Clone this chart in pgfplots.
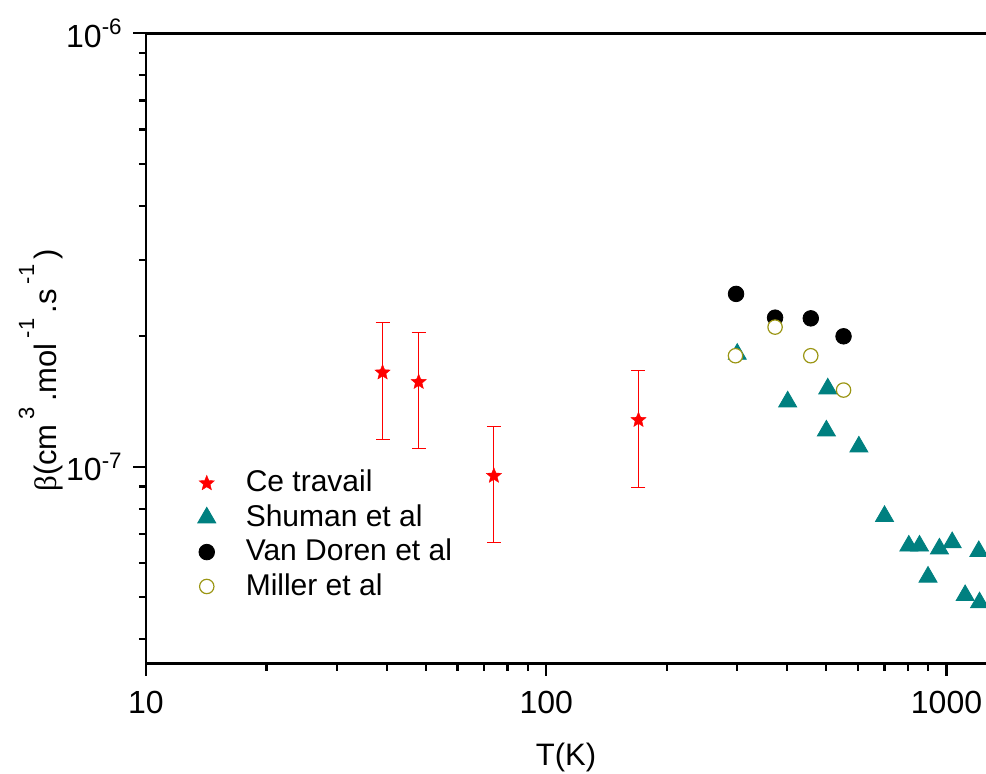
\documentclass[border=0pt]{standalone}
\usepackage{pgfplots}
\pgfplotsset{compat=1.18}
\usepackage{fontspec}
\setmainfont{Liberation Sans}
\newfontfamily\seriffont{Liberation Serif}
\definecolor{shuman}{RGB}{0,128,128}
\definecolor{miller}{RGB}{155,150,20}
\pgfdeclareplotmark{fstar}{%
  \pgfpathmoveto{\pgfqpointpolar{90}{\pgfplotmarksize}}%
  \pgfpathlineto{\pgfqpointpolar{126}{0.44\pgfplotmarksize}}%
  \pgfpathlineto{\pgfqpointpolar{162}{\pgfplotmarksize}}%
  \pgfpathlineto{\pgfqpointpolar{198}{0.44\pgfplotmarksize}}%
  \pgfpathlineto{\pgfqpointpolar{234}{\pgfplotmarksize}}%
  \pgfpathlineto{\pgfqpointpolar{270}{0.44\pgfplotmarksize}}%
  \pgfpathlineto{\pgfqpointpolar{306}{\pgfplotmarksize}}%
  \pgfpathlineto{\pgfqpointpolar{342}{0.44\pgfplotmarksize}}%
  \pgfpathlineto{\pgfqpointpolar{18}{\pgfplotmarksize}}%
  \pgfpathlineto{\pgfqpointpolar{54}{0.44\pgfplotmarksize}}%
  \pgfpathclose
  \pgfusepathqfillstroke}
\newcommand{\labsup}[1]{\,\raisebox{0.72em}{\fontsize{11}{11}\selectfont #1}\,}
\begin{document}
\fontsize{15.5}{18.5}\selectfont
\begin{tikzpicture}
\begin{axis}[
  at={(0,0)}, anchor=south west,
  scale only axis, width=420pt, height=315pt,
  xmode=log, ymode=log,
  xmin=10, xmax=1255, ymin=3.52e-8, ymax=1e-6,
  axis y line*=left,
  axis line style={line width=1.2pt},
  xtick pos=left,
  tick align=outside,
  major tick length=6.3pt, minor tick length=3.6pt,
  every tick/.style={line width=1.1pt, black},
  xtick={10,100,1000}, xticklabels={10,100,1000},
  minor xtick={20,30,40,50,60,70,80,90,200,300,400,500,600,700,800,900},
  ytick={1e-7,1e-6}, yticklabels={10\textsuperscript{-7},10\textsuperscript{-6}},
  minor ytick={4e-8,5e-8,6e-8,7e-8,8e-8,9e-8,2e-7,3e-7,4e-7,5e-7,6e-7,7e-7,8e-7,9e-7},
  tick label style={font=\fontsize{16}{19}\selectfont},
  xticklabel style={yshift=-2.5pt},
  xlabel={T(K)},
  xlabel style={at={(axis description cs:0.5,-0.149)}, anchor=center, font=\fontsize{15.5}{18.5}\selectfont},
  ylabel={{\seriffont β}(cm\labsup{3}.mol\labsup{-1}.s\labsup{-1})},
  ylabel style={at={(axis description cs:-0.125,0.465)}, anchor=center, font=\fontsize{15.5}{18.5}\selectfont},
  legend style={at={(axis description cs:0.054,0.32)}, anchor=north west, draw=none, fill=none,
    font=\fontsize{15}{18.5}\selectfont, row sep=0pt, column sep=13pt},
  legend cell align=left,
  clip=false,
]
\addplot[only marks, mark=fstar, mark size=4pt, red, mark options={fill=red, draw=red, line width=0.2pt},
  error bars/.cd, y dir=both, y explicit,
  error bar style={red, line width=0.5pt},
  error mark options={rotate=90, mark size=3.5pt, red, line width=0.5pt}]
coordinates {
(39,1.65e-7) += (0,5.0e-8) -= (0,4.93e-8)
(48,1.569e-7) += (0,4.7e-8) -= (0,4.66e-8)
(74,9.53e-8) += (0,2.87e-8) -= (0,2.84e-8)
(170,1.282e-7) += (0,3.84e-8) -= (0,3.86e-8)
};
\addlegendentry{Ce travail}
\addplot[only marks, mark=triangle*, mark size=5.2pt, shuman, mark options={fill=shuman, draw=none}]
coordinates {
(300,1.82e-7)
(401,1.413e-7)
(505,1.514e-7)
(501,1.211e-7)
(604,1.112e-7)
(700,7.69e-8)
(805,6.57e-8)
(856,6.57e-8)
(960,6.47e-8)
(1033,6.69e-8)
(1204,6.38e-8)
(899,5.57e-8)
(1113,5.05e-8)
(1209,4.86e-8)
};
\addlegendentry{Shuman et al}
\addplot[only marks, mark=*, mark size=3.9pt, black, mark options={fill=black}]
coordinates {
(298,2.505e-7)
(373,2.208e-7)
(458,2.20e-7)
(553,2.0e-7)
};
\addlegendentry{Van Doren et al}
\addplot[only marks, mark=*, mark size=3.6pt, miller, mark options={fill=white, draw=miller, line width=0.6pt}]
coordinates {
(297,1.804e-7)
(373,2.10e-7)
(458,1.804e-7)
(553,1.503e-7)
};
\addlegendentry{Miller et al}
\end{axis}
\pgfresetboundingbox
\useasboundingbox (-73pt,-55.35pt) rectangle (420pt,331.65pt);
\end{tikzpicture}
\end{document}
